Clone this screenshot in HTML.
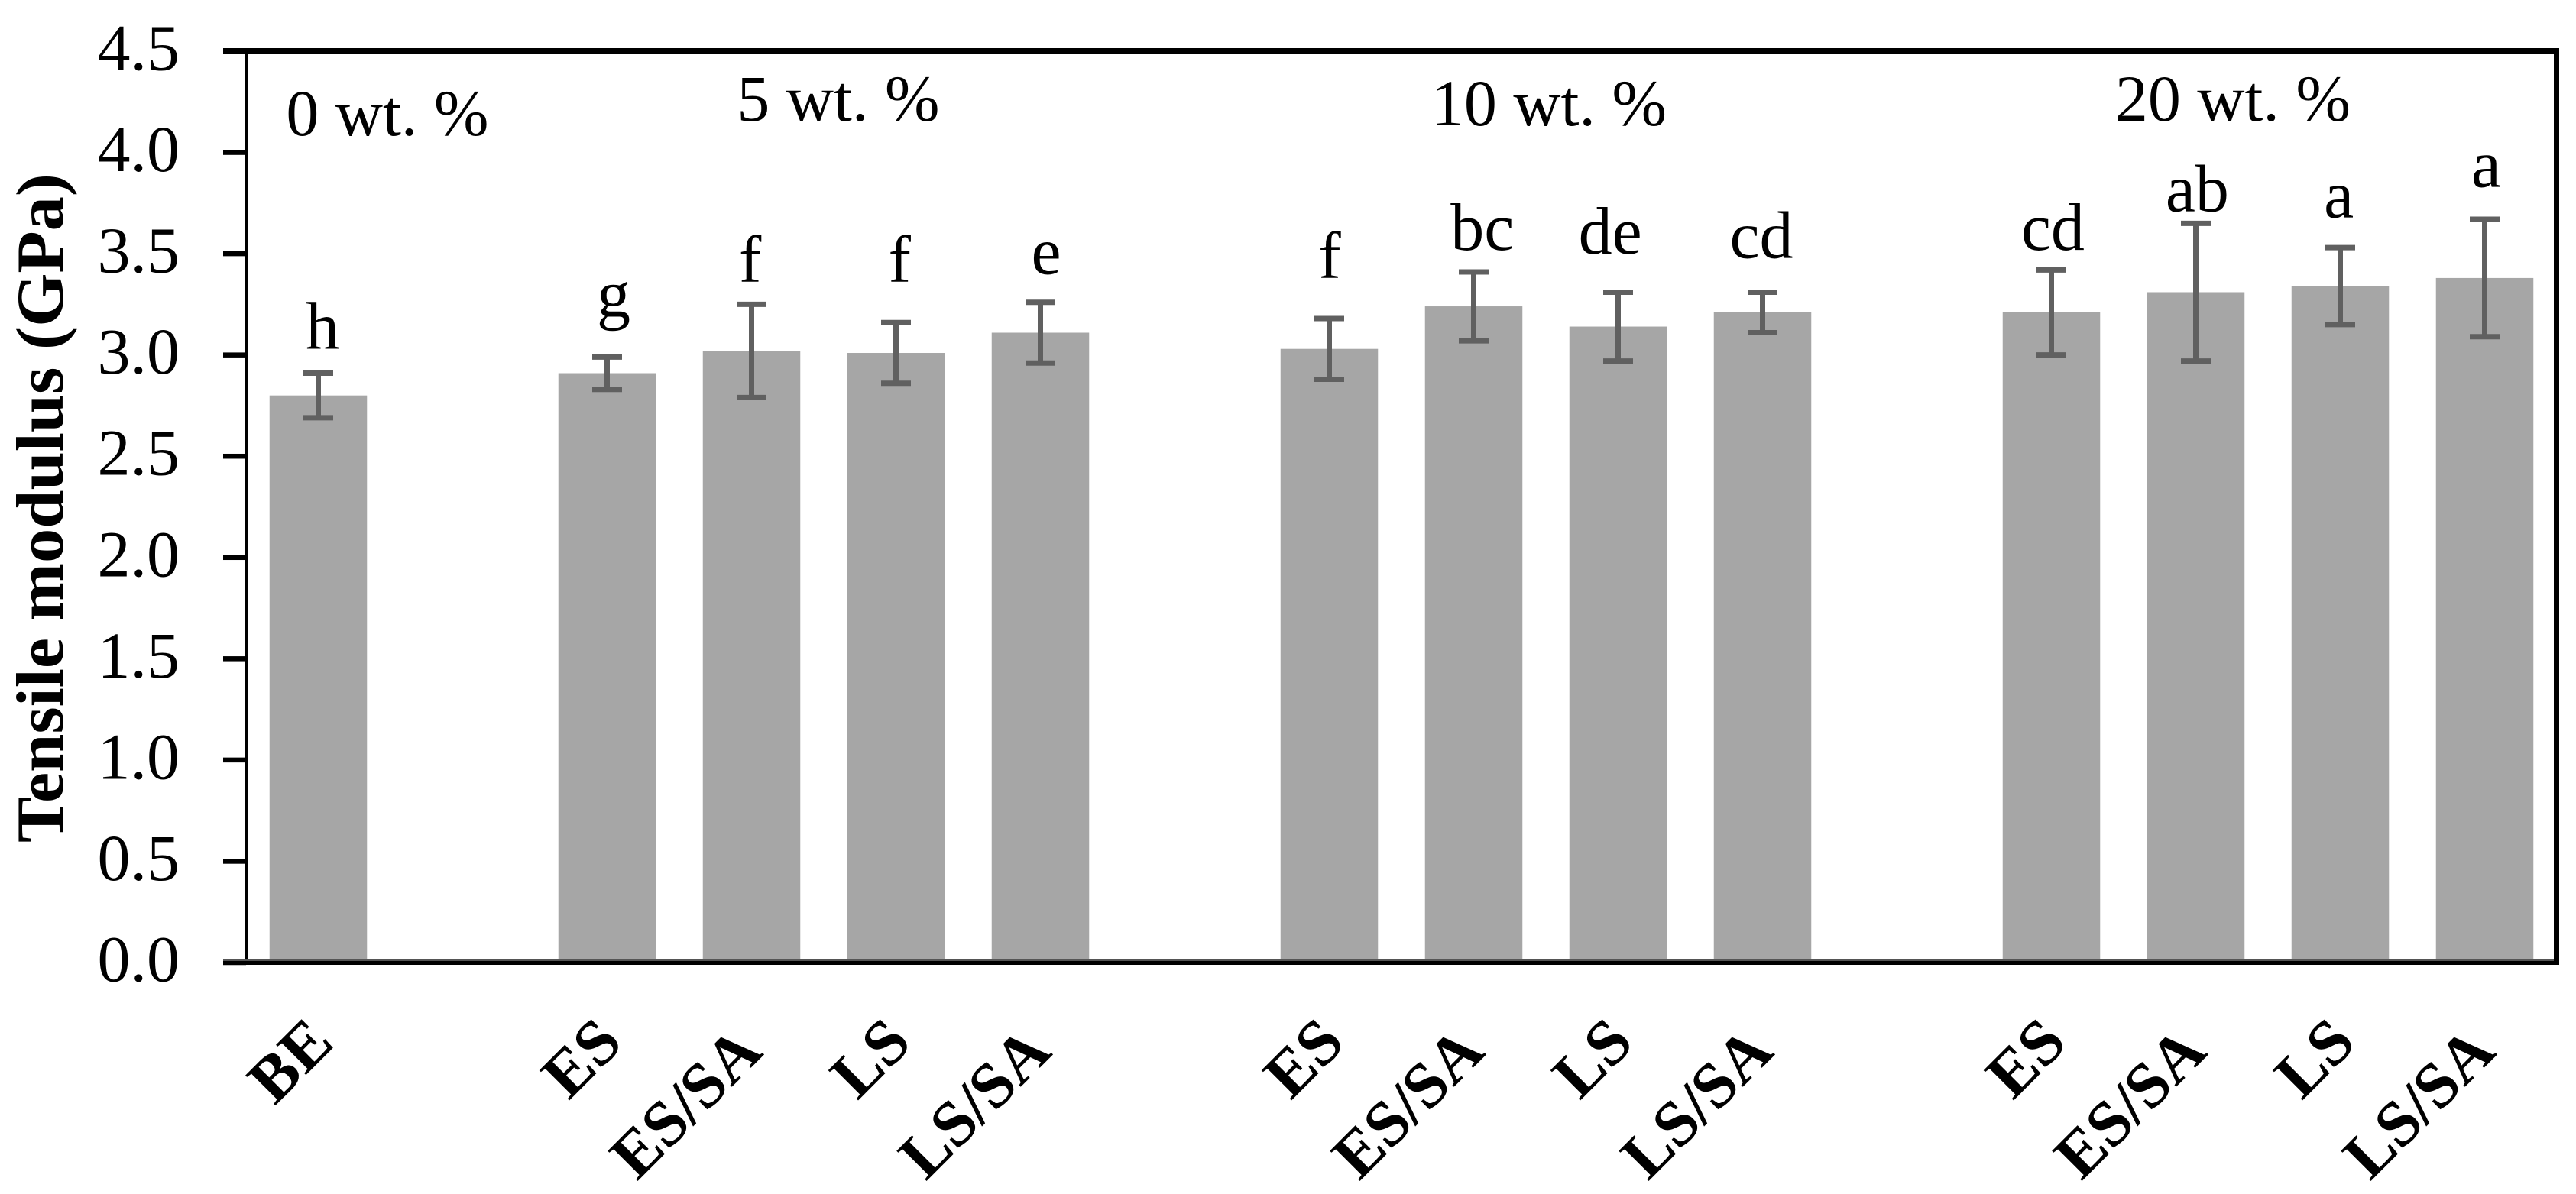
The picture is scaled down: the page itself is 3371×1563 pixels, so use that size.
<!DOCTYPE html>
<html>
<head>
<meta charset="utf-8">
<title>Tensile modulus chart</title>
<style>
  html, body { margin: 0; padding: 0; background: #fff; }
  svg { display: block; }
  text { font-family: "Liberation Serif", serif; fill: #000; }
</style>
</head>
<body>
<svg id="chart" xmlns="http://www.w3.org/2000/svg" width="3371" height="1563" viewBox="0 0 3371 1563">
  <rect x="0" y="0" width="3371" height="1563" fill="#fff"/>
  <g id="bars"></g>
  <g id="errors"></g>
  <g id="axes"></g>
  <g id="sig"></g>
  <g id="ticks"></g>
  <g id="cats"></g>
  <text transform="translate(82,665) rotate(-90)" text-anchor="middle" font-size="88" font-weight="bold" textLength="876" lengthAdjust="spacingAndGlyphs">Tensile modulus (GPa)</text>
  <text x="507" y="177" text-anchor="middle" font-size="86">0 wt. %</text>
  <text x="1097" y="158" text-anchor="middle" font-size="86">5 wt. %</text>
  <text x="2027" y="164" text-anchor="middle" font-size="86">10 wt. %</text>
  <text x="2922" y="158" text-anchor="middle" font-size="86">20 wt. %</text>
</svg>
<script>
// Chart data. null marks the empty slots between groups.
const categories = ["BE", null, "ES", "ES/SA", "LS", "LS/SA", null, "ES", "ES/SA", "LS", "LS/SA", null, "ES", "ES/SA", "LS", "LS/SA"];
const modulus    = [2.80, null, 2.91, 3.02, 3.01, 3.11, null, 3.03, 3.24, 3.14, 3.21, null, 3.21, 3.31, 3.34, 3.38];
const modulusErr = [0.11, null, 0.08, 0.23, 0.15, 0.15, null, 0.15, 0.17, 0.17, 0.10, null, 0.21, 0.34, 0.19, 0.29];
const sigLetters = ["h", null, "g", "f", "f", "e", null, "f", "bc", "de", "cd", null, "cd", "ab", "a", "a"];
const sigLevels  = [3.03, null, 3.19, 3.36, 3.36, 3.40, null, 3.38, 3.52, 3.50, 3.48, null, 3.52, 3.71, 3.68, 3.83];
// Horizontal placement of each letter relative to its bar, in category widths.
const sigNudge   = [0.03, null, 0.045, -0.01, 0.025, 0.04, null, 0.003, 0.06, -0.055, -0.008, null, 0.01, 0.01, -0.01, 0.01];
const yTicks = ["0.0", "0.5", "1.0", "1.5", "2.0", "2.5", "3.0", "3.5", "4.0", "4.5"];

const NS = "http://www.w3.org/2000/svg";
const plotLeft = 322, plotRight = 3346, plotTop = 67, plotBottom = 1260;
const yMax = 4.5;
const catWidth = (plotRight - plotLeft) / categories.length;
const barWidth = 127.5;

function xScale(i) { return plotLeft + catWidth * (i + 0.5); }
function yScale(v) { return plotBottom - (v / yMax) * (plotBottom - plotTop); }

function make(tag, attrs) {
  const el = document.createElementNS(NS, tag);
  for (const k in attrs) el.setAttribute(k, attrs[k]);
  return el;
}

const barsG = document.getElementById("bars");
const errG = document.getElementById("errors");
const axesG = document.getElementById("axes");
const sigG = document.getElementById("sig");
const ticksG = document.getElementById("ticks");
const catsG = document.getElementById("cats");

categories.forEach(function (cat, i) {
  if (cat === null) return;
  const cx = xScale(i), val = modulus[i], err = modulusErr[i];

  const bar = make("rect", { x: cx - barWidth / 2, y: yScale(val), width: barWidth, height: plotBottom - yScale(val), fill: "#a6a6a6" });
  
  
  barsG.appendChild(bar);

  const yHi = yScale(val + err), yLo = yScale(val - err);
  const stem = make("line", { x1: cx, x2: cx, y1: yHi, y2: yLo, stroke: "#606060", "stroke-width": 7 });
  
  
  errG.appendChild(stem);
  [yHi, yLo].forEach(function (y) {
    const cap = make("line", { x1: cx - 19.5, x2: cx + 19.5, y1: y, y2: y, stroke: "#606060", "stroke-width": 7 });
    
    
    errG.appendChild(cap);
  });

  const letter = make("text", { x: cx + sigNudge[i] * catWidth, y: yScale(sigLevels[i]), "text-anchor": "middle", "font-size": 88 });
  
  
  letter.textContent = sigLetters[i];
  sigG.appendChild(letter);

  const isLong = cat.indexOf("/") >= 0;
  const px = cx + (isLong ? 17 : 23), py = isLong ? 1380 : 1368;
  const label = make("text", { transform: "translate(" + px + "," + py + ") rotate(-45)", "text-anchor": "end", "font-size": 85, "font-weight": "bold" });
  
  
  label.textContent = cat;
  catsG.appendChild(label);
});

yTicks.forEach(function (t) {
  const y = yScale(parseFloat(t));
  const tl = make("text", { x: 235, y: y + 24.5, "text-anchor": "end", "font-size": 86 });
  
  
  tl.textContent = t;
  ticksG.appendChild(tl);
  const tick = make("rect", { x: 292, y: y - 3.25, width: 30, height: 6.5, fill: "#000" });
  
  
  axesG.appendChild(tick);
});

const leftAxis = make("rect", { x: 320, y: 63, width: 5, height: 1200, fill: "#000" });


axesG.appendChild(leftAxis);

const rightBorder = make("rect", { x: 3342, y: 63, width: 7, height: 1200, fill: "#000" });


axesG.appendChild(rightBorder);

const topBorder = make("rect", { x: 292, y: 63, width: 3057, height: 8, fill: "#000" });


axesG.appendChild(topBorder);

const xShadow = make("rect", { x: 292, y: 1255, width: 3050, height: 3, fill: "#555" });


axesG.appendChild(xShadow);

const xAxis = make("rect", { x: 292, y: 1258, width: 3057, height: 5, fill: "#000" });


axesG.appendChild(xAxis);
</script>
</body>
</html>
